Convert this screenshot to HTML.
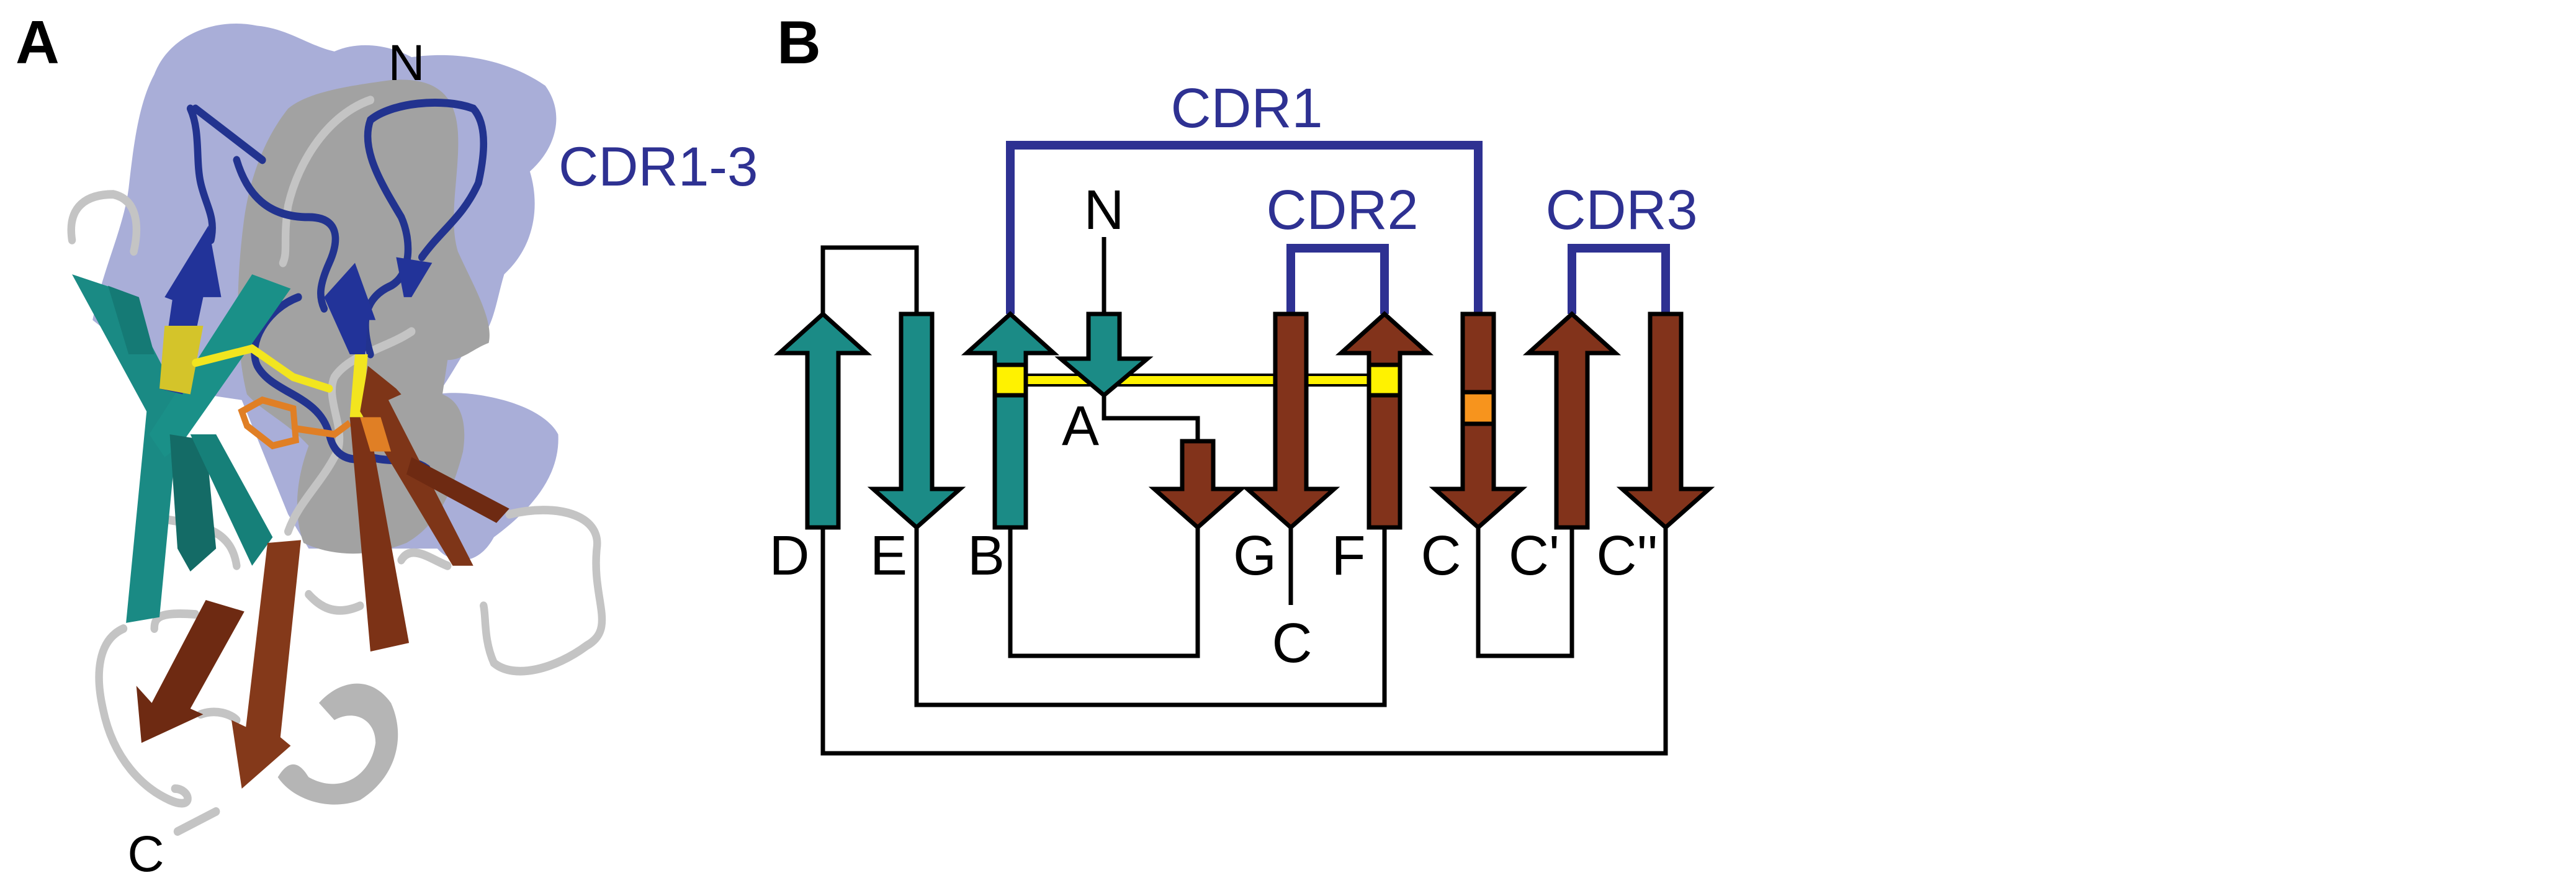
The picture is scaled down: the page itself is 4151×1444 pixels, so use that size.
<!DOCTYPE html>
<html><head><meta charset="utf-8"><style>
html,body{margin:0;padding:0;background:#fff}
svg{display:block}
text{font-family:"Liberation Sans",sans-serif}
</style></head><body>
<svg width="4151" height="1444" viewBox="0 0 4151 1444" xmlns="http://www.w3.org/2000/svg">
<text x="25" y="102" font-size="98" font-weight="bold" fill="#000">A</text>
<text x="1252" y="102" font-size="98" font-weight="bold" fill="#000">B</text>

<g transform="scale(0.829,0.921)">
  <path d="M300,130 C330,60 420,30 500,45 C560,50 600,80 650,90 C700,70 760,80 800,100 C880,90 980,100 1060,150 C1100,200 1080,260 1030,300 C1050,360 1040,430 980,480 C960,540 960,590 900,620 C880,650 860,680 850,690 C900,680 1050,700 1085,760 C1090,840 1020,900 960,940 C930,990 880,990 850,960 L600,960 L560,900 L470,700 L320,680 L250,610 L180,560 C200,470 240,400 250,330 C260,250 270,180 300,130 Z" fill="#a9aed8"/>
  <path d="M560,190 C600,160 680,150 760,140 C840,135 885,160 890,230 C895,300 870,380 890,440 C920,500 960,560 950,600 C920,610 900,630 870,630 L860,690 C890,700 910,730 900,790 C880,860 850,920 790,950 C720,975 650,975 590,950 C570,900 575,840 600,780 C560,740 510,720 480,690 C455,600 460,480 475,380 C490,290 525,230 560,190 Z" fill="#a2a2a2"/>
  <g fill="none" stroke="#c4c4c4" stroke-width="15" stroke-linecap="round">
    <path d="M140,420 C130,360 170,340 220,340 C270,350 270,400 260,440"/>
    <path d="M720,175 C640,200 580,280 560,360 C550,420 560,440 550,460"/>
    <path d="M310,800 C290,850 280,900 330,910 C400,920 450,930 460,990"/>
    <path d="M240,1100 C190,1120 185,1180 200,1240 C220,1330 280,1380 330,1400 C380,1420 370,1380 340,1380"/>
    <path d="M345,1455 L420,1420"/>
    <path d="M600,1040 C620,1060 650,1080 700,1060"/>
    <path d="M990,900 C1080,880 1170,900 1160,960 C1150,1050 1200,1100 1140,1130 C1080,1170 1000,1190 960,1160 C940,1120 945,1080 940,1060"/>
    <path d="M780,980 C800,950 840,980 870,990"/>
    <path d="M800,580 C750,610 680,620 650,660 C630,700 680,760 650,800 C620,850 580,880 560,930"/>
    <path d="M300,1100 C300,1080 310,1070 380,1075"/>
    <path d="M390,1250 C420,1240 450,1250 460,1260"/>
  </g>
  <path d="M620,1230 C660,1190 720,1180 760,1230 C790,1290 770,1360 700,1400 C640,1420 570,1400 540,1360 C560,1330 580,1330 600,1360 C660,1390 720,1360 730,1300 C730,1260 690,1240 650,1260 Z" fill="#b5b5b5"/>
  <g fill="none" stroke="#22338f" stroke-width="14" stroke-linecap="round">
    <path d="M370,190 C390,230 380,280 390,320 C400,360 420,380 410,420"/>
    <path d="M380,190 L510,280"/>
    <path d="M460,280 C480,340 520,380 600,380 C660,380 660,420 640,460 C620,500 620,520 630,540"/>
    <path d="M720,620 C700,560 710,520 760,500 C800,480 800,420 780,380 C740,320 700,260 720,210 C760,180 860,170 920,190 C950,220 940,280 930,320 C900,380 860,400 820,450"/>
    <path d="M580,520 C520,540 480,600 500,640 C530,690 620,690 640,760 C650,800 680,810 720,800"/>
    <path d="M720,800 C760,810 800,800 830,820"/>
  </g>
  <polygon points="140,480 240,510 350,700 310,1080 245,1090 285,720" fill="#1a8a84"/>
  <polygon points="490,480 565,505 350,780 320,800 290,760" fill="#1a9088"/>
  <polygon points="330,760 400,770 420,960 370,1000 345,960" fill="#146b66"/>
  <polygon points="370,760 420,760 530,940 490,990" fill="#168079"/>
  <polygon points="210,500 270,520 300,620 250,620" fill="#157a75"/>
  <polygon points="320,520 405,395 430,520 395,520 355,690 310,680 335,525" fill="#223399"/>
  <polygon points="320,570 395,570 370,690 310,680" fill="#d4c42a"/>
  <polygon points="630,520 690,460 730,560 715,560 710,620 680,620" fill="#223399"/>
  <polygon points="770,450 840,460 800,520 785,520" fill="#223399"/>
  <path d="M380,635 L490,610 L570,660 L640,680" fill="none" stroke="#f2e51f" stroke-width="14" stroke-linecap="round"/>
  <polygon points="690,620 715,620 705,730 680,730" fill="#f2e51f"/>
  <path d="M470,720 L510,700 L570,715 L575,770 L530,780 L480,745 Z M575,750 L650,760 L680,740" fill="none" stroke="#e07f25" stroke-width="12"/>
  <polygon points="400,1050 475,1070 370,1240 395,1250 275,1300 265,1200 295,1230" fill="#6e2a12"/>
  <polygon points="520,950 585,945 545,1290 565,1305 470,1380 450,1260 478,1272" fill="#84391a"/>
  <polygon points="680,730 715,730 795,1125 720,1140" fill="#7c3216"/>
  <polygon points="715,640 770,680 780,690 755,700 920,990 880,990 700,720" fill="#7e3518"/>
  <polygon points="800,800 990,890 965,915 790,830" fill="#6e2a12"/>
  <polygon points="700,730 740,730 760,790 720,790" fill="#e07f25"/>
</g>
<text x="655" y="129" font-size="82" fill="#000" text-anchor="middle">N</text>
<text x="235" y="1404" font-size="82" fill="#000" text-anchor="middle">C</text>
<text x="900" y="299" font-size="89" fill="#2e3192">CDR1-3</text>

<g fill="none" stroke="#000" stroke-width="7">
  <polyline points="1326,506 1326,399 1477,399 1477,506"/>
  <polyline points="1779,506 1779,382"/>
  <polyline points="1779,637 1779,674 1930,674 1930,711"/>
  <polyline points="2080,850 2080,975"/>
  <polyline points="1628,850 1628,1057 1930,1057 1930,850"/>
  <polyline points="2382,850 2382,1057 2533,1057 2533,850"/>
  <polyline points="1477,850 1477,1136 2231,1136 2231,850"/>
  <polyline points="1326,850 1326,1214 2684,1214 2684,850"/>
</g>
<g fill="none" stroke="#2e3192" stroke-width="14">
  <polyline points="1628,506 1628,234 2382,234 2382,506"/>
  <polyline points="2080,506 2080,400 2231,400 2231,506"/>
  <polyline points="2533,506 2533,400 2684,400 2684,506"/>
</g>
<rect x="1628" y="604" width="603" height="17" fill="#fff200" stroke="#000" stroke-width="4"/>
<g stroke="#000" stroke-width="7" stroke-linejoin="miter">
  <path d="M1326,506 L1396,569 L1351,569 L1351,850 L1301,850 L1301,569 L1256,569 Z" fill="#1b8b86"/>
  <path d="M1628,506 L1698,569 L1653,569 L1653,850 L1603,850 L1603,569 L1558,569 Z" fill="#1b8b86"/>
  <path d="M2231,506 L2301,569 L2256,569 L2256,850 L2206,850 L2206,569 L2161,569 Z" fill="#82331b"/>
  <path d="M2533,506 L2603,569 L2558,569 L2558,850 L2508,850 L2508,569 L2463,569 Z" fill="#82331b"/>
  <path d="M1452,506 L1502,506 L1502,788 L1547,788 L1477,850 L1407,788 L1452,788 Z" fill="#1b8b86"/>
  <path d="M2055,506 L2105,506 L2105,788 L2150,788 L2080,850 L2010,788 L2055,788 Z" fill="#82331b"/>
  <path d="M2357,506 L2407,506 L2407,788 L2452,788 L2382,850 L2312,788 L2357,788 Z" fill="#82331b"/>
  <path d="M2659,506 L2709,506 L2709,788 L2754,788 L2684,850 L2614,788 L2659,788 Z" fill="#82331b"/>
  <path d="M1905,711 L1955,711 L1955,788 L2000,788 L1930,850 L1860,788 L1905,788 Z" fill="#82331b"/>
  <path d="M1754,506 L1804,506 L1804,578 L1849,578 L1779,637 L1709,578 L1754,578 Z" fill="#1b8b86"/>
  <rect x="1603" y="588" width="50" height="49" fill="#fff200"/>
  <rect x="2206" y="588" width="50" height="49" fill="#fff200"/>
  <rect x="2357" y="632" width="50" height="51" fill="#f7941d"/>
</g>
<g font-size="90" fill="#000" text-anchor="middle">
  <text x="1779" y="369">N</text>
  <text x="1741" y="717">A</text>
  <text x="1272" y="926">D</text>
  <text x="1432" y="926">E</text>
  <text x="1589" y="926">B</text>
  <text x="2022" y="926">G</text>
  <text x="2173" y="926">F</text>
  <text x="2322" y="926">C</text>
  <text x="2472" y="926">C'</text>
  <text x="2622" y="926">C''</text>
  <text x="2082" y="1067">C</text>
</g>
<g font-size="90" fill="#2e3192" text-anchor="middle">
  <text x="2009" y="205">CDR1</text>
  <text x="2163" y="369">CDR2</text>
  <text x="2613" y="369">CDR3</text>
</g>
</svg>
</body></html>
